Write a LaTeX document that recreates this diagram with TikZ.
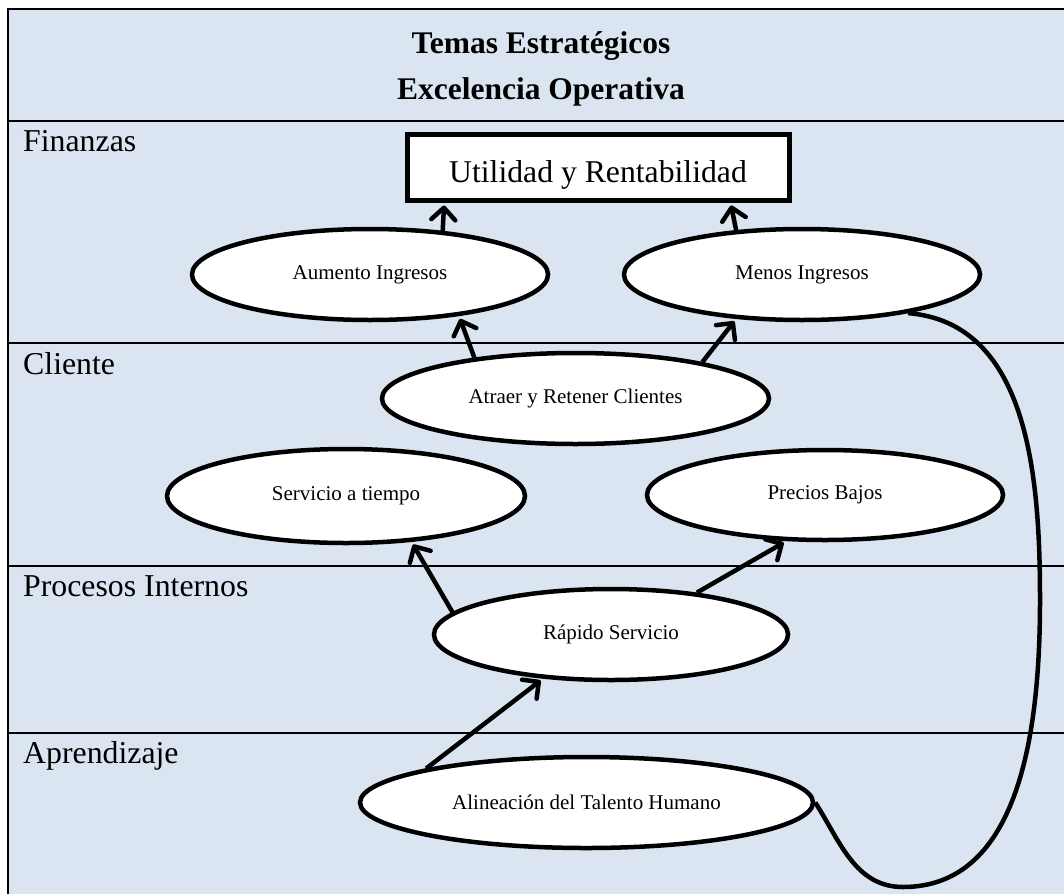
\documentclass[tikz,border=0pt]{standalone}
\usepackage{fontspec}
\setmainfont{Liberation Serif}
\usetikzlibrary{shapes.geometric,arrows.meta}
\definecolor{rowblue}{HTML}{DBE5F1}

\begin{document}
\begin{tikzpicture}[
    x=1pt, y=-1pt,
    goal/.style={ellipse, draw, fill=white, line width=4.5pt, minimum width=356pt, minimum height=91pt, inner sep=0pt, font=\fontsize{21}{25}\selectfont},
    perspective/.style={anchor=base west, inner sep=0pt, font=\fontsize{31.8}{38}\selectfont},
    heading/.style={anchor=base, inner sep=0pt, font=\fontsize{31.5}{38}\selectfont\bfseries},
    result/.style={rectangle, draw, fill=white, line width=5pt, minimum width=382pt, minimum height=66pt, inner sep=0pt, text height=30pt, text depth=0pt, font=\fontsize{31.7}{38}\selectfont},
    arrow/.style={-{Straight Barb[length=12pt,width=24pt,round]}, line width=4.5pt, shorten >=3pt},
    link/.style={line width=4.5pt}
]
    \useasboundingbox (0,0) rectangle (1064,894);

    % Table background and rules
    \fill[rowblue] (8,9) rectangle (1064,894);
    \draw[line width=2.5pt] (8,894) -- (8,9) -- (1064,9);
    \draw[line width=2.2pt] (8,121) -- (1064,121);
    \foreach \y in {343,566,733}
        \draw[line width=1.8pt] (8,\y) -- (1064,\y);

    % Heading
    \node[heading] (temas) at (541,53) {Temas Estratégicos};
    \node[heading] (excelencia) at (541,99) {Excelencia Operativa};

    % Perspectives
    \node[perspective] (finanzas) at (23,151) {Finanzas};
    \node[perspective] (cliente) at (23,374) {Cliente};
    \node[perspective] (procesos) at (23,596) {Procesos Internos};
    \node[perspective] (aprendizaje) at (23,763) {Aprendizaje};

    % Objectives
    \node[result] (util) at (598,167) {Utilidad y Rentabilidad};
    \node[goal] (aumento) at (370,274.5) {Aumento Ingresos};
    \node[goal] (menos) at (802,274.5) {Menos Ingresos};
    \node[goal, minimum width=387pt] (atraer) at (575.5,398.5) {Atraer y Retener Clientes};
    \node[goal, minimum width=358pt, minimum height=94pt] (servicio) at (346,496) {Servicio a tiempo};
    \node[goal, minimum height=90pt] (precios) at (825,495) {Precios Bajos};
    \node[goal, minimum width=354pt] (rapido) at (611,634.5) {Rápido Servicio};
    \node[goal, minimum width=453pt] (alineacion) at (586.5,802.5) {Alineación del Talento Humano};

    % Links
    \draw[arrow] (aumento.31) -- (util.193);
    \draw[arrow] (menos.146) -- (util.-15);
    \draw[arrow] (atraer.158) -- (aumento.-25);
    \draw[arrow] (atraer.16) -- (menos.-146);
    \draw[arrow] (rapido.172) -- (servicio.-35);
    \draw[arrow] (rapido.26) -- (precios.-130);
    \draw[arrow] (alineacion.168) -- (rapido.-147);
    \draw[link] (menos.-20) .. controls (1028,323) and (1040,475) .. (1040,600)
        .. controls (1040,730) and (1020,887) .. (903,887)
        .. controls (855,887) and (840,841) .. (alineacion.east);
\end{tikzpicture}
\end{document}
